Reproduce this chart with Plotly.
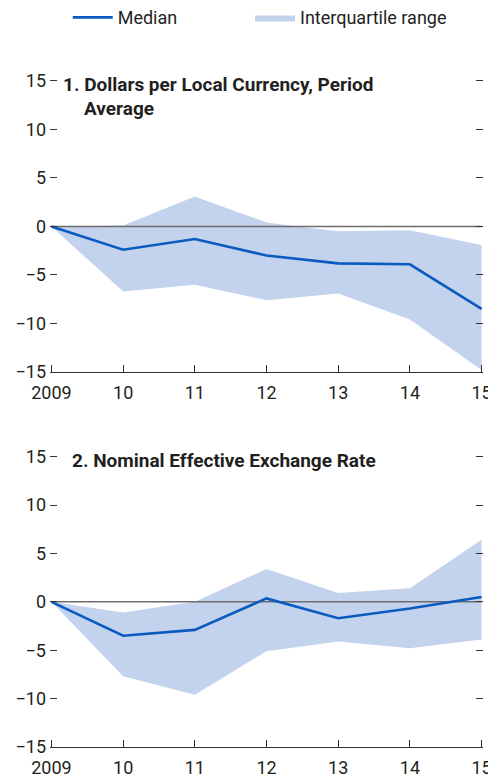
import plotly.graph_objects as go

years = [2009, 2010, 2011, 2012, 2013, 2014, 2015]
tick_labels = ["2009", "10", "11", "12", "13", "14", "15"]

# Panel 1: Dollars per Local Currency, Period Average
p1_median = [0, -2.4, -1.3, -3.0, -3.8, -3.9, -8.5]
p1_upper = [0, 0.1, 3.1, 0.4, -0.5, -0.4, -1.9]
p1_lower = [0, -6.7, -6.0, -7.6, -6.9, -9.6, -14.8]

# Panel 2: Nominal Effective Exchange Rate
p2_median = [0, -3.5, -2.9, 0.35, -1.7, -0.7, 0.5]
p2_upper = [0, -1.1, 0.0, 3.4, 0.9, 1.4, 6.4]
p2_lower = [0, -7.7, -9.6, -5.1, -4.1, -4.8, -3.9]

y_ticks = [-15, -10, -5, 0, 5, 10, 15]
y_tick_labels = ["\u221215", "\u221210", "\u22125", "0", "5", "10", "15"]

titles = ["1. Dollars per Local Currency, Period", "Average", "2. Nominal Effective Exchange Rate"]

BLUE = "#0a5bbf"
FILL = "#c3d3ee"
GRAY = "#6d6d6d"
TXT = "#231f20"
FONT = "Roboto, sans-serif"

fig = go.Figure()

panels = [
    (p1_median, p1_upper, p1_lower, "x", "y", True),
    (p2_median, p2_upper, p2_lower, "x2", "y2", False),
]
for med, up, lo, xa, ya, show in panels:
    fig.add_trace(go.Scatter(x=years, y=lo, mode="lines", line=dict(width=0, color=FILL),
                             showlegend=False, hoverinfo="skip", xaxis=xa, yaxis=ya))
    fig.add_trace(go.Scatter(x=years, y=up, mode="lines", line=dict(width=0, color=FILL),
                             fill="tonexty", fillcolor=FILL, name="Interquartile range",
                             showlegend=show, legend="legend2", xaxis=xa, yaxis=ya))
    fig.add_trace(go.Scatter(x=[years[0], years[-1]], y=[0, 0], mode="lines",
                             line=dict(width=1.4, color=GRAY), showlegend=False,
                             hoverinfo="skip", xaxis=xa, yaxis=ya))
    fig.add_trace(go.Scatter(x=years, y=med, mode="lines", line=dict(width=2.6, color=BLUE),
                             name="Median", showlegend=show, legend="legend", xaxis=xa, yaxis=ya))

xcommon = dict(range=[2008.98, 2015.02], tickmode="array", tickvals=years, ticktext=tick_labels,
               ticks="inside", ticklen=7, tickwidth=1.2, tickcolor="#333", automargin=False,
               showline=True, linecolor="#333", linewidth=1.3, showgrid=False, zeroline=False,
               ticklabelstandoff=4,
               tickfont=dict(family=FONT, size=18, color=TXT))
ycommon = dict(range=[-15, 15.2], tickmode="array", tickvals=y_ticks, ticktext=y_tick_labels,
               ticks="inside", ticklen=7, tickwidth=1.2, tickcolor="#333", automargin=False,
               showline=False, mirror="ticks", showgrid=False, zeroline=False,
               ticklabelstandoff=3,
               tickfont=dict(family=FONT, size=18, color=TXT))

leg_common = dict(orientation="h", xanchor="left", yanchor="middle", y=1.0918,
                  font=dict(family=FONT, size=18, color=TXT), itemwidth=40,
                  bgcolor="rgba(0,0,0,0)", borderwidth=0)

fig.update_layout(
    width=488, height=774,
    margin=dict(l=42, r=13, t=71, b=35, autoexpand=False),
    plot_bgcolor="white", paper_bgcolor="white",
    xaxis=dict(domain=[0, 1], anchor="y", **xcommon),
    yaxis=dict(domain=[0.5614, 1], anchor="x", **ycommon),
    xaxis2=dict(domain=[0, 1], anchor="y2", **xcommon),
    yaxis2=dict(domain=[0, 0.4376], anchor="x2", **ycommon),
    legend=dict(x=0.0409, **leg_common),
    legend2=dict(x=0.4619, **leg_common),
    showlegend=True,
)

def px_x(px):
    return (px - 50) / 433.0

def px_y(py):
    return (747 - py) / 668.0

ann_font = dict(family=FONT, size=19, color=TXT)
fig.add_annotation(text="<b>" + titles[0] + "</b>", x=px_x(61.3), y=px_y(84.5), xref="paper", yref="paper",
                   xanchor="left", yanchor="middle", showarrow=False, font=ann_font)
fig.add_annotation(text="<b>" + titles[1] + "</b>", x=px_x(82.3), y=px_y(108.4), xref="paper", yref="paper",
                   xanchor="left", yanchor="middle", showarrow=False, font=ann_font)
fig.add_annotation(text="<b>" + titles[2] + "</b>", x=px_x(69.7), y=px_y(460.4), xref="paper", yref="paper",
                   xanchor="left", yanchor="middle", showarrow=False, font=ann_font)

fig.write_html("out.html")
